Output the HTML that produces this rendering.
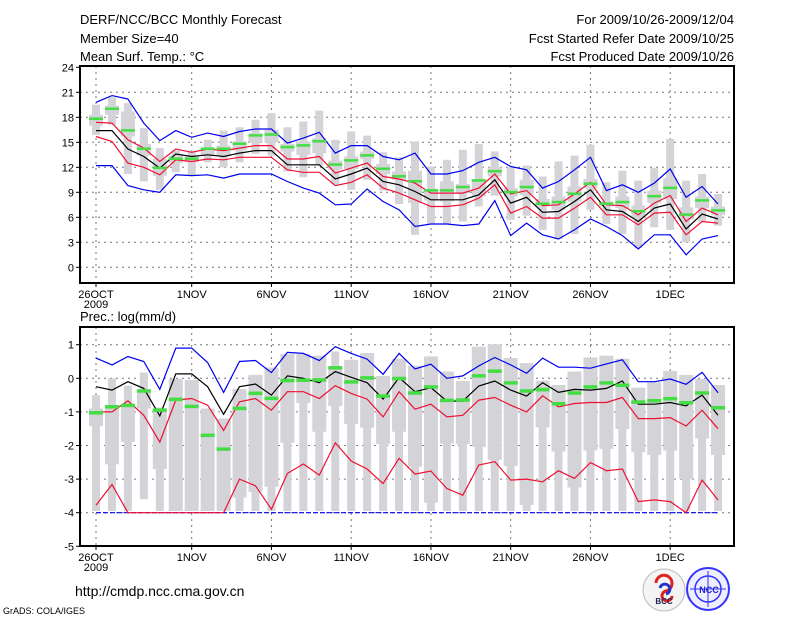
<!DOCTYPE html>
<html><head><meta charset="utf-8"><style>
html,body{margin:0;padding:0;background:#fff;}
svg{display:block;font-family:"Liberation Sans",sans-serif;}
</style></head><body>
<svg id="chart" width="800" height="618" viewBox="0 0 800 618" xmlns="http://www.w3.org/2000/svg">
<text x="80" y="24" font-size="13">DERF/NCC/BCC Monthly Forecast</text>
<text x="80" y="43" font-size="13">Member Size=40</text>
<text x="80" y="61" font-size="13">Mean Surf. Temp.: °C</text>
<text x="734" y="24" font-size="13" text-anchor="end">For 2009/10/26-2009/12/04</text>
<text x="734" y="43" font-size="13" text-anchor="end">Fcst Started Refer Date 2009/10/25</text>
<text x="734" y="61" font-size="13" text-anchor="end">Fcst Produced Date 2009/10/26</text>
<text x="80" y="321" font-size="13">Prec.: log(mm/d)</text>
<text x="75" y="596" font-size="14">http://cmdp.ncc.cma.gov.cn</text>
<text x="3" y="614" font-size="9">GrADS: COLA/IGES</text>
<g>
<circle cx="664" cy="590" r="21" fill="#f4f4f4" stroke="#bbb"/>
<path d="M656 583 a8 8 0 1 1 10 8 a5 5 0 1 0 6 5" fill="none" stroke="#d22" stroke-width="3"/>
<path d="M660 588 a5 5 0 1 1 6 6" fill="none" stroke="#23c" stroke-width="3"/>
<text x="664" y="604" font-size="8" font-weight="bold" text-anchor="middle" fill="#225">BCC</text>
</g>
<g>
<circle cx="708" cy="589" r="21" fill="#eef" stroke="#33f" stroke-width="2"/>
<circle cx="708" cy="589" r="13" fill="none" stroke="#33f" stroke-width="1.5"/>
<line x1="690" y1="589" x2="726" y2="589" stroke="#33f"/>
<line x1="708" y1="571" x2="708" y2="607" stroke="#33f"/>
<text x="709" y="593" font-size="9" font-weight="bold" text-anchor="middle" fill="#22c">NCC</text>
</g>
</svg>
<script>
// ---------- data ----------
const dayLabels = ["26OCT","1NOV","6NOV","11NOV","16NOV","21NOV","26NOV","1DEC"];
const tempTicks = [0,3,6,9,12,15,18,21,24];
const precTicks = [-5,-4,-3,-2,-1,0,1];
// Temperature
const tMax = [19.5,20.4,19.7,16.7,14.3,14.0,14.0,15.3,16.4,16.8,17.7,18.5,16.8,17.5,18.8,15.3,16.3,15.8,13.8,13.2,15.1,12.1,12.9,14.1,14.8,13.9,12.0,12.2,10.9,12.7,13.4,14.7,10.2,11.6,10.4,11.9,15.4,10.4,11.2,8.8];
const tQ3 = [18.3,19.4,18.7,14.8,13.0,13.4,13.3,14.3,14.6,15.1,16.1,16.5,14.8,15.1,15.5,12.8,13.3,13.9,12.4,11.5,11.6,9.4,10.3,10.0,10.5,12.0,9.5,10.5,8.2,8.5,9.7,10.6,7.9,8.5,7.4,9.2,10.7,7.2,8.5,7.3];
const tQ1 = [17.0,18.3,15.7,13.4,11.0,12.5,12.6,13.5,13.3,14.0,15.0,15.0,13.9,13.5,13.7,11.7,11.8,13.0,11.2,10.5,7.7,8.0,7.9,8.9,8.5,10.9,8.5,8.7,7.3,6.9,7.9,9.5,7.3,7.1,5.9,7.7,8.2,5.7,7.1,6.3];
const tMin = [15.9,17.1,11.2,10.3,9.3,11.4,11.0,12.6,12.0,12.6,13.6,13.4,11.5,10.8,12.2,10.0,9.3,10.5,9.2,7.6,3.9,5.2,5.2,5.5,7.3,8.6,5.7,6.2,4.5,3.4,4.0,6.9,5.2,4.0,2.3,4.8,4.5,3.0,5.5,5.0];
const tBlueHi = [19.8,20.6,20.2,17.3,15.2,16.4,15.6,16.1,15.7,16.3,16.6,16.6,14.9,15.5,16.2,13.7,14.6,14.6,13.3,12.9,13.7,11.2,11.2,11.6,12.6,13.2,12.1,11.7,9.5,10.3,11.7,13.2,9.2,9.9,9.0,10.1,11.8,8.4,9.7,7.6];
const tBlueLo = [12.2,12.2,9.8,9.3,9.0,11.1,11.0,11.1,10.7,11.2,11.2,11.2,10.3,9.5,8.9,7.5,7.6,9.4,7.9,6.9,4.9,5.2,5.2,5.0,5.2,8.0,3.8,5.3,3.9,3.4,4.5,5.8,4.9,3.8,2.2,3.9,3.9,1.5,3.4,3.8];
const tRedHi = [17.4,17.3,15.3,14.3,12.7,14.2,13.8,14.2,14.0,14.3,14.6,14.6,13.0,13.0,13.3,11.3,11.9,12.5,10.9,10.6,10.1,8.9,8.9,8.9,9.5,11.2,8.8,9.2,7.4,7.5,8.8,10.2,7.5,7.4,6.3,7.7,8.6,5.5,7.1,6.3];
const tRedLo = [15.7,15.1,12.5,12.0,11.1,12.9,12.7,13.0,12.9,13.2,13.2,13.2,11.7,11.4,11.4,9.8,10.2,11.1,9.5,8.9,8.1,7.3,7.3,7.5,8.3,9.9,6.5,7.3,5.9,5.9,7.1,8.4,6.3,6.3,5.1,6.5,6.6,3.9,5.5,5.3];
const tMean = [16.4,16.4,14.2,13.3,11.9,13.6,13.3,13.5,13.3,13.7,14.0,14.0,12.3,12.3,12.3,10.6,11.2,11.9,10.3,9.9,9.1,8.1,8.1,8.1,8.7,10.5,7.7,8.4,6.6,6.7,7.9,9.3,6.9,6.7,5.5,7.1,7.6,4.6,6.4,5.8];
const tObs = [17.8,19.0,16.4,14.2,11.9,13.0,13.0,14.2,14.2,14.8,15.8,15.9,14.4,14.6,15.1,12.3,12.8,13.4,11.8,10.9,10.3,9.2,9.2,9.6,10.4,11.5,9.0,9.6,7.6,7.8,8.8,10.0,7.6,7.8,6.7,8.5,9.5,6.3,8.0,6.8];
// Precipitation
const pMax = [-0.5,0.0,-0.22,0.17,-0.87,-0.02,-0.05,-0.9,-1.2,-0.32,0.1,0.32,0.72,0.72,0.67,0.8,0.55,0.75,0.07,0.58,0.37,0.65,0.2,-0.08,0.94,1.01,0.6,0.45,-0.07,-0.2,0.2,0.62,0.67,0.58,-0.28,-0.12,0.22,0.1,-0.02,-0.2];
const pQ3 = [-0.9,-0.8,-0.8,-0.35,-0.9,-0.02,-0.05,-0.9,-1.2,-0.32,0.1,0.32,0.72,0.72,0.67,0.3,0.55,0.75,0.07,0.58,0.37,0.65,0.2,-0.08,0.94,1.01,0.6,0.45,-0.07,-0.2,0.2,0.62,0.67,0.58,-0.28,-0.12,0.22,0.1,-0.02,-0.2];
const pQ1 = [-1.42,-2.56,-1.89,-0.9,-2.7,-3.95,-3.95,-3.95,-3.95,-3.55,-3.38,-3.23,-1.92,-0.74,-1.59,-0.82,-1.36,-1.47,-1.96,-1.59,-2.63,-3.7,-1.94,-1.96,-2.04,-2.43,-2.61,-3.77,-1.46,-2.18,-3.25,-2.15,-2.1,-1.51,-2.2,-2.28,-2.15,-3.0,-1.79,-2.28];
const pMin = [-3.95,-3.95,-3.95,-3.6,-3.95,-3.95,-3.95,-3.95,-3.95,-3.95,-3.95,-3.95,-3.95,-3.95,-3.95,-3.95,-3.95,-3.95,-3.95,-3.95,-3.95,-3.95,-3.95,-3.95,-3.95,-3.95,-3.95,-3.95,-3.95,-3.95,-3.95,-3.95,-3.95,-3.95,-3.95,-3.95,-3.95,-3.95,-3.95,-3.95];
const pBlueHi = [0.6,0.4,0.65,0.5,-0.33,0.9,0.9,0.47,-0.42,0.5,0.53,0.17,0.77,0.74,0.53,0.94,0.74,0.57,0.12,0.74,0.28,0.42,0.0,0.07,0.37,0.62,0.4,0.15,0.6,0.33,0.33,0.3,0.43,0.55,-0.1,-0.1,-0.02,-0.18,0.18,-0.43];
const pBlueLo = [-4,-4,-4,-4,-4,-4,-4,-4,-4,-4,-4,-4,-4,-4,-4,-4,-4,-4,-4,-4,-4,-4,-4,-4,-4,-4,-4,-4,-4,-4,-4,-4,-4,-4,-4,-4,-4,-4,-4,-4];
const pRedHi = [-1.0,-1.0,-0.67,-1.1,-1.9,-0.65,-0.6,-0.8,-1.55,-0.7,-0.6,-0.95,-0.4,-0.4,-0.6,-0.22,-0.45,-0.62,-1.15,-0.4,-0.92,-0.77,-1.15,-1.1,-0.65,-0.57,-0.8,-1.0,-0.52,-0.85,-0.75,-0.72,-0.72,-0.57,-1.2,-1.2,-1.17,-1.42,-0.95,-1.5];
const pRedLo = [-3.78,-3.16,-4,-4,-4,-4,-4,-4,-4,-3.0,-3.2,-3.9,-2.83,-2.55,-2.88,-1.92,-2.46,-2.7,-3.13,-2.38,-2.85,-2.76,-3.28,-3.48,-2.58,-2.48,-3.03,-3.0,-3.08,-2.75,-2.98,-2.51,-2.75,-2.7,-3.67,-3.62,-3.67,-4.0,-3.03,-3.62];
const pMean = [-0.25,-0.35,-0.1,-0.3,-1.12,0.13,0.13,-0.25,-1.07,-0.25,-0.17,-0.5,0.07,0.0,-0.13,0.2,0.03,-0.13,-0.62,0.02,-0.4,-0.28,-0.68,-0.68,-0.23,-0.08,-0.35,-0.53,-0.13,-0.42,-0.33,-0.35,-0.3,-0.08,-0.77,-0.77,-0.72,-0.82,-0.5,-1.1];
const pObs = [-1.02,-0.84,-0.8,-0.37,-0.94,-0.62,-0.83,-1.69,-2.1,-0.89,-0.44,-0.59,-0.06,-0.05,-0.04,0.32,-0.1,0.02,-0.52,0.0,-0.43,-0.25,-0.65,-0.64,0.08,0.22,-0.13,-0.37,-0.33,-0.75,-0.43,-0.25,-0.13,-0.2,-0.7,-0.66,-0.6,-0.72,-0.43,-0.87];

// ---------- drawing ----------
const svg = document.getElementById('chart');
const NS = 'http://www.w3.org/2000/svg';
function mk(tag, attrs, parent){const e=document.createElementNS(NS,tag);for(const k in attrs)e.setAttribute(k,attrs[k]);(parent||svg).appendChild(e);return e;}
const X0 = 96, DX = 15.95, LEFT = 80, RIGHT = 734;
function xDay(i){return X0 + i*DX;}

function panel(name, top, bottom, yOf, ticks, series, opts){
  const g = mk('g',{});
  
  
  // grid
  ticks.forEach(t=>{
    const y=yOf(t);
    if(y>top+2 && y<bottom-2){
      const l=mk('line',{x1:LEFT,x2:RIGHT,y1:y,y2:y,stroke:'#777','stroke-dasharray':'2,4','stroke-width':1},g);
      
      
    }
    mk('line',{x1:LEFT-4,x2:LEFT,y1:y,y2:y,stroke:'#000'},g);
    const tx=mk('text',{x:LEFT-6,y:y+4,'font-size':11,'text-anchor':'end'},g);
    tx.textContent=t;
    
    
  });
  dayLabels.forEach((lab,k)=>{
    const x=xDay(k*5+ (k===0?0:1) - (k===0?0:1)) ;
    const xx = X0 + (k===0?0:(6+ (k-1)*5))*DX;
    const l=mk('line',{x1:xx,x2:xx,y1:top,y2:bottom,stroke:'#777','stroke-dasharray':'2,4'},g);
    
    
    mk('line',{x1:xx,x2:xx,y1:bottom,y2:bottom+4,stroke:'#000'},g);
    const tx=mk('text',{x:xx,y:bottom+15,'font-size':11,'text-anchor':'middle'},g);
    tx.textContent=lab;
    
    
  });
  const yr=mk('text',{x:X0,y:bottom+25,'font-size':11,'text-anchor':'middle'},g);
  yr.textContent='2009';
  
  
  // boxes
  const [mx,q3,q1,mn] = series.box;
  for(let i=0;i<mx.length;i++){
    const x=xDay(i);
    const w=mk('rect',{x:x-4,y:yOf(mx[i]),width:8,height:Math.max(1,yOf(mn[i])-yOf(mx[i])),fill:'#d3d3d8'},g);
    
    
    const b=mk('rect',{x:x-7,y:yOf(q3[i]),width:14,height:Math.max(1,yOf(q1[i])-yOf(q3[i])),fill:'#d3d3d8'},g);
    
    
  }
  function line(vals,color,nm,dash){
    const p=vals.map((v,i)=>xDay(i).toFixed(1)+','+yOf(v).toFixed(1)).join(' ');
    const e=mk('polyline',{points:p,fill:'none',stroke:color,'stroke-width':1.2},g);
    if(dash)e.setAttribute('stroke-dasharray',dash);
    
    
  }
  line(series.blueHi,'#0000ee','max-line');
  line(series.blueLo,'#0000ee','min-line',opts.dashLo);
  line(series.redHi,'#ee1133','upper-percentile-line');
  line(series.redLo,'#ee1133','lower-percentile-line');
  line(series.mean,'#000','ensemble-mean-line');
  series.obs.forEach((v,i)=>{
    const r=mk('rect',{x:xDay(i)-7,y:yOf(v)-1.5,width:14,height:opts.obsH,fill:'#44dd44'},g);
    
    
  });
  const f=mk('rect',{x:LEFT,y:top,width:RIGHT-LEFT,height:bottom-top,fill:'none',stroke:'#000','stroke-width':2},g);
  
  
}

panel('temperature-panel',66,283,v=>267.3-8.333*v,tempTicks,
  {box:[tMax,tQ3,tQ1,tMin],blueHi:tBlueHi,blueLo:tBlueLo,redHi:tRedHi,redLo:tRedLo,mean:tMean,obs:tObs},{obsH:2.5});
panel('precipitation-panel',327,546,v=>378.3-33.6*v,precTicks,
  {box:[pMax,pQ3,pQ1,pMin],blueHi:pBlueHi,blueLo:pBlueLo,redHi:pRedHi,redLo:pRedLo,mean:pMean,obs:pObs},{obsH:3.5,dashLo:'5,2'});
</script>
</body></html>
